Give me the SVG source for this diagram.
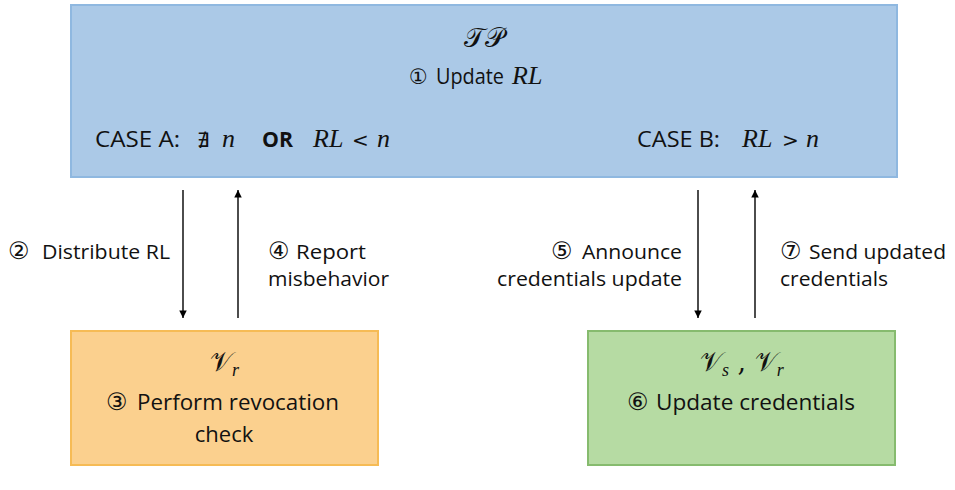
<svg xmlns="http://www.w3.org/2000/svg" width="955" height="490" viewBox="0 0 955 490">
<defs>
<marker id="ah" viewBox="0 0 10 12" refX="10" refY="6" markerWidth="12" markerHeight="9" markerUnits="userSpaceOnUse" orient="auto"><path d="M0,1 L10,6 L0,11 z" fill="#000"/></marker>
</defs>
<style>
.t{font-family:"Open Sans","Liberation Sans",sans-serif;font-size:20px;fill:#111}
.b{font-family:"Open Sans","Liberation Sans",sans-serif;font-size:22px;fill:#111}
.d{font-family:"DejaVu Sans",sans-serif;font-size:24px;fill:#111}
.m{font-family:"Liberation Serif","DejaVu Serif",serif;font-style:italic;font-size:26px;fill:#111}
.o{font-family:"DejaVu Sans",sans-serif;font-size:24px;fill:#111}
.s{font-family:"DejaVu Serif","DejaVu Sans",serif;font-size:27px;fill:#111}
.sub{font-family:"Liberation Serif",serif;font-style:italic;font-size:18px}
.c{stroke:#000;stroke-width:1.4;fill:none;marker-end:url(#ah)}
</style>
<rect width="955" height="490" fill="#fff"/>
<g id="tp">
<rect x="71" y="5" width="826" height="172" fill="#abc9e7" stroke="#8fb8e0" stroke-width="2"/>
<text class="s" x="484" y="47" text-anchor="middle">𝒯𝒫</text>
<text class="d" x="409" y="84" style="font-size:21px">①</text>
<text class="t" x="436" y="84" style="font-size:21px" textLength="68" lengthAdjust="spacingAndGlyphs">Update</text>
<text class="m" x="512" y="84" style="font-size:26px">RL</text>
<text class="t" x="95" y="147" style="font-size:21px" textLength="85" lengthAdjust="spacingAndGlyphs">CASE A:</text>
<text class="o" x="197" y="147" style="font-size:20px">∄</text>
<text class="m" x="222" y="147">n</text>
<text class="t" x="262" y="147" style="font-size:21px;font-weight:bold" textLength="31" lengthAdjust="spacingAndGlyphs">OR</text>
<text class="m" x="313" y="147">RL</text>
<text class="o" x="352" y="147" style="font-size:20px">&lt;</text>
<text class="m" x="377" y="147">n</text>
<text class="t" x="637" y="147" style="font-size:21px" textLength="83" lengthAdjust="spacingAndGlyphs">CASE B:</text>
<text class="m" x="742" y="147">RL</text>
<text class="o" x="782" y="147" style="font-size:20px">&gt;</text>
<text class="m" x="806" y="147">n</text>
</g>
<g id="vr">
<rect x="71" y="331" width="307" height="134" fill="#fbd08e" stroke="#f6bb55" stroke-width="2"/>
<text class="s" x="210" y="371">𝒱<tspan class="sub" dy="5">r</tspan></text>
<text class="d" x="106" y="410">③</text>
<text class="b" x="137" y="410" textLength="202" lengthAdjust="spacingAndGlyphs">Perform revocation</text>
<text class="b" x="224" y="442" text-anchor="middle">check</text>
</g>
<g id="vsvr">
<rect x="588" y="331" width="307" height="134" fill="#b6dba3" stroke="#86bb6e" stroke-width="2"/>
<text class="s" x="700" y="371">𝒱<tspan class="sub" dy="5">s</tspan><tspan dy="-5"> , 𝒱</tspan><tspan class="sub" dy="5">r</tspan></text>
<text class="d" x="627" y="410">⑥</text>
<text class="b" x="656" y="410" textLength="199" lengthAdjust="spacingAndGlyphs">Update credentials</text>
</g>
<g id="connectors">
<line class="c" x1="183" y1="190" x2="183" y2="318"/>
<line class="c" x1="238" y1="318" x2="238" y2="190"/>
<line class="c" x1="698" y1="190" x2="698" y2="318"/>
<line class="c" x1="755" y1="318" x2="755" y2="190"/>
<text class="d" x="8" y="259">②</text>
<text class="t" x="42" y="259" textLength="128" lengthAdjust="spacingAndGlyphs">Distribute RL</text>
<text class="d" x="268" y="259">④</text>
<text class="t" x="296" y="259" textLength="70" lengthAdjust="spacingAndGlyphs">Report</text>
<text class="t" x="268" y="286" textLength="121" lengthAdjust="spacingAndGlyphs">misbehavior</text>
<text class="d" x="551" y="259">⑤</text>
<text class="t" x="582" y="259" textLength="100" lengthAdjust="spacingAndGlyphs">Announce</text>
<text class="t" x="497" y="286" textLength="185" lengthAdjust="spacingAndGlyphs">credentials update</text>
<text class="d" x="780" y="259">⑦</text>
<text class="t" x="809" y="259" textLength="137" lengthAdjust="spacingAndGlyphs">Send updated</text>
<text class="t" x="780" y="286" textLength="108" lengthAdjust="spacingAndGlyphs">credentials</text>
</g>
</svg>
